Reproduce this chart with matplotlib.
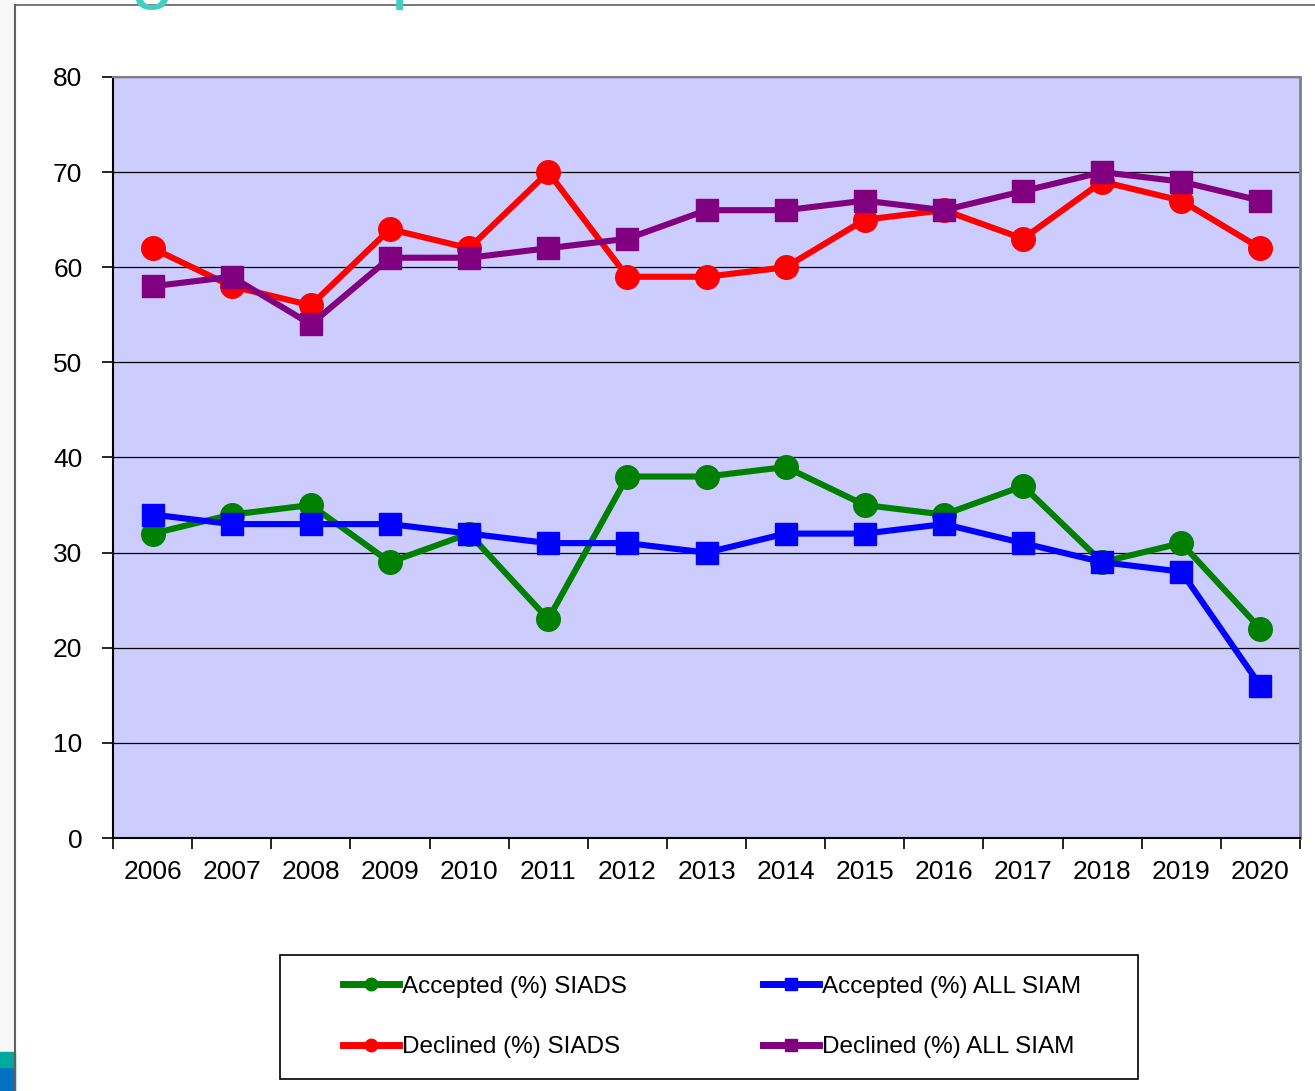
import matplotlib.pyplot as plt
from matplotlib.patches import Rectangle
from matplotlib.lines import Line2D

years = ['2006', '2007', '2008', '2009', '2010', '2011', '2012', '2013',
         '2014', '2015', '2016', '2017', '2018', '2019', '2020']
accepted_siads = [32, 34, 35, 29, 32, 23, 38, 38, 39, 35, 34, 37, 29, 31, 22]
accepted_all = [34, 33, 33, 33, 32, 31, 31, 30, 32, 32, 33, 31, 29, 28, 16]
declined_siads = [62, 58, 56, 64, 62, 70, 59, 59, 60, 65, 66, 63, 69, 67, 62]
declined_all = [58, 59, 54, 61, 61, 62, 63, 66, 66, 67, 66, 68, 70, 69, 67]

plt.rcParams['font.family'] = ['Liberation Sans', 'DejaVu Sans']

fig = plt.figure(figsize=(13.15, 10.91), dpi=100)
W, H = 1315, 1091

# slide leftovers: grey strip, frame, cut-off title, coloured squares
fig.patches.append(Rectangle((0, 0), 15 / W, 1, transform=fig.transFigure,
                             color='#f8f8f8', zorder=0))
fig.patches.append(Rectangle((0, 0), 15 / W, 24 / H, transform=fig.transFigure,
                             color='#0070c0', zorder=1))
fig.patches.append(Rectangle((0, 24 / H), 15 / W, 15 / H, transform=fig.transFigure,
                             color='#00a99d', zorder=1))
fig.lines.append(Line2D([15 / W, 15 / W], [0, 1 - 5 / H], transform=fig.transFigure,
                        color='#606060', lw=1.5))
fig.lines.append(Line2D([15 / W, 1], [1 - 5 / H, 1 - 5 / H], transform=fig.transFigure,
                        color='#606060', lw=1.2))
fig.text(152 / W, 1 + 6 / H, 'g', color='#40d0c0', fontsize=56,
         ha='center', va='baseline')
fig.text(413 / W, 1 + 6 / H, 'p', color='#40d0c0', fontsize=56,
         ha='center', va='baseline')

ax = fig.add_axes([113 / W, 1 - 838 / H, (1300 - 113) / W, (838 - 77) / H])
ax.set_facecolor('#ccccff')

x = list(range(len(years)))
ax.plot(x, accepted_siads, color='#008000', lw=4.4, marker='o', ms=17,
        label='Accepted (%) SIADS', zorder=3)
ax.plot(x, declined_siads, color='#ff0000', lw=4.4, marker='o', ms=17,
        label='Declined (%) SIADS', zorder=3)
ax.plot(x, accepted_all, color='#0000ff', lw=4.4, marker='s', ms=16,
        label='Accepted (%) ALL SIAM', zorder=4)
ax.plot(x, declined_all, color='#800080', lw=4.4, marker='s', ms=16,
        label='Declined (%) ALL SIAM', zorder=4)

ax.set_xlim(-0.5, len(years) - 0.5)
ax.set_ylim(0, 80)
ax.set_yticks(range(0, 81, 10))
ax.set_xticks(x)
ax.set_xticklabels(years)
ax.set_xticks([i - 0.5 for i in range(len(years) + 1)], minor=True)
ax.tick_params(axis='x', which='major', length=0, labelsize=19, pad=16)
ax.tick_params(axis='x', which='minor', length=8, width=1.2, direction='out')
ax.tick_params(axis='y', length=8, width=1.2, labelsize=19, pad=14)
ax.grid(axis='y', color='black', lw=0.9)
ax.set_axisbelow(True)
ax.spines['left'].set_linewidth(1.5)
ax.spines['bottom'].set_linewidth(1.5)
ax.spines['top'].set_color('#808080')
ax.spines['right'].set_color('#808080')
ax.spines['top'].set_linewidth(1.5)
ax.spines['right'].set_linewidth(2)

# legend box drawn separately, entries placed inside it
fig.patches.append(Rectangle((280 / W, 1 - 1079 / H), (1138 - 280) / W, (1079 - 955) / H,
                             transform=fig.transFigure, facecolor='white',
                             edgecolor='black', lw=1.2, zorder=2))
handles, labels = ax.get_legend_handles_labels()
leg_handles = [Line2D([], [], color=h.get_color(), lw=5, marker=h.get_marker(),
                      ms=9) for h in handles]
leg = fig.legend(leg_handles, labels, ncol=2, loc='center',
                 bbox_to_anchor=(712 / W, 1 - 1017 / H),
                 fontsize=17.5, frameon=False, handlelength=2.3,
                 handletextpad=0.12, columnspacing=5.6,
                 labelspacing=1.6, borderpad=0, borderaxespad=0)
leg.set_zorder(3)

fig.savefig('out.png', dpi=100, facecolor='white')
